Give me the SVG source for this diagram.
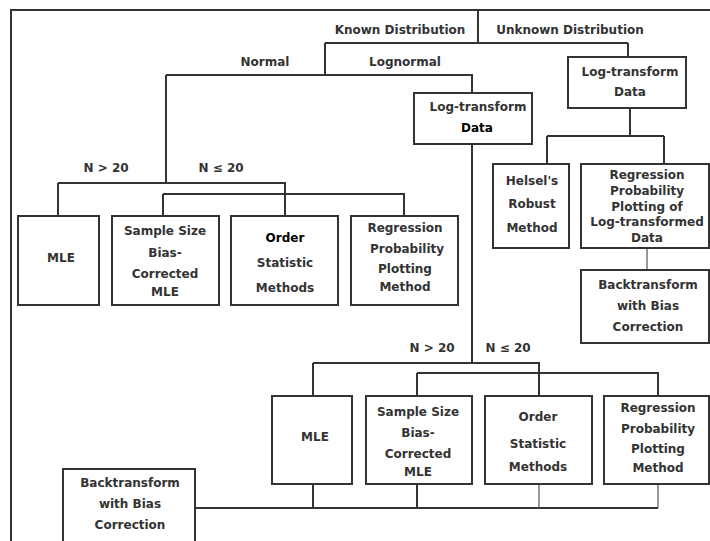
<svg xmlns="http://www.w3.org/2000/svg" width="710" height="541" viewBox="0 0 710 541">
<style>
.bx{fill:#fff;stroke:#333;stroke-width:2}
.ln{fill:none;stroke:#333;stroke-width:2}
.th{fill:none;stroke:#555;stroke-width:1.2}
text{font-family:"DejaVu Sans","Liberation Sans",sans-serif;font-weight:bold;font-size:12px;fill:#333;text-anchor:middle}
text.dk{fill:#000}
</style>
<rect width="710" height="541" fill="#fff"/>
<g id="frame" class="ln"><path d="M11,541 V10 H712"/></g>
<g id="connectors">
<path class="ln" d="M478,10 V43 M325,43 H628 M325,43 V75 M628,43 V57"/>
<path class="ln" d="M166,75 H472 V93 M166,75 V183"/>
<path class="ln" d="M58,183 H285 V216 M58,183 V216 M163,194 H404 V216 M163,194 V216"/>
<path class="ln" d="M630,108 V136 M547,136 H664 M547,136 V164 M664,136 V164"/>
<path class="th" d="M647,248 V270"/>
<path class="ln" d="M472,144 V363 M313,363 H539 V396 M313,363 V396 M417,373 H658 V396 M417,373 V396"/>
<path class="ln" d="M195,508 H658 M313,484 V508 M417,484 V508"/>
<path class="th" d="M539,484 V508 M658,484 V508"/>
</g>
<g id="labels">
<text x="400" y="34">Known Distribution</text>
<text x="570" y="34">Unknown Distribution</text>
<text x="265" y="66">Normal</text>
<text x="405" y="66">Lognormal</text>
<text x="106" y="172">N &gt; 20</text>
<text x="221" y="172">N ≤ 20</text>
<text x="432" y="352">N &gt; 20</text>
<text x="508" y="352">N ≤ 20</text>
</g>
<g id="logtransform-unknown"><rect class="bx" x="568" y="57" width="118" height="51"/><text x="630" y="76">Log-transform</text><text x="630" y="96">Data</text></g>
<g id="logtransform-lognormal"><rect class="bx" x="414" y="93" width="118" height="51"/><text x="478" y="111">Log-transform</text><text class="dk" x="477" y="132">Data</text></g>
<g id="mle-normal"><rect class="bx" x="18" y="216" width="81" height="89"/><text x="61" y="262">MLE</text></g>
<g id="sample-normal"><rect class="bx" x="112" y="216" width="107" height="89"/><text x="165" y="235">Sample Size</text><text x="165" y="257">Bias-</text><text x="165" y="278">Corrected</text><text x="165" y="296">MLE</text></g>
<g id="order-normal"><rect class="bx" x="231" y="216" width="107" height="89"/><text class="dk" x="285" y="242">Order</text><text x="285" y="267">Statistic</text><text x="285" y="292">Methods</text></g>
<g id="regression-normal"><rect class="bx" x="351" y="216" width="107" height="89"/><text x="405" y="232">Regression</text><text x="407" y="253">Probability</text><text x="405" y="273">Plotting</text><text x="405" y="291">Method</text></g>
<g id="helsel"><rect class="bx" x="493" y="164" width="76" height="84"/><text x="532" y="185">Helsel's</text><text x="532" y="208">Robust</text><text x="532" y="232">Method</text></g>
<g id="regression-unknown"><rect class="bx" x="581" y="164" width="128" height="84"/><text x="647" y="179">Regression</text><text x="647" y="195">Probability</text><text x="647" y="211">Plotting of</text><text x="647" y="226">Log-transformed</text><text x="647" y="242">Data</text></g>
<g id="backtransform-unknown"><rect class="bx" x="581" y="270" width="128" height="73"/><text x="648" y="289">Backtransform</text><text x="648" y="310">with Bias</text><text x="648" y="331">Correction</text></g>
<g id="mle-lognormal"><rect class="bx" x="272" y="396" width="80" height="88"/><text x="315" y="441">MLE</text></g>
<g id="sample-lognormal"><rect class="bx" x="366" y="396" width="106" height="88"/><text x="418" y="416">Sample Size</text><text x="418" y="437">Bias-</text><text x="418" y="458">Corrected</text><text x="418" y="476">MLE</text></g>
<g id="order-lognormal"><rect class="bx" x="485" y="396" width="107" height="88"/><text x="538" y="421">Order</text><text x="538" y="448">Statistic</text><text x="538" y="471">Methods</text></g>
<g id="regression-lognormal"><rect class="bx" x="604" y="396" width="105" height="88"/><text x="658" y="412">Regression</text><text x="658" y="433">Probability</text><text x="658" y="453">Plotting</text><text x="658" y="472">Method</text></g>
<g id="backtransform-lognormal"><rect class="bx" x="63" y="469" width="132" height="80"/><text x="130" y="487">Backtransform</text><text x="130" y="508">with Bias</text><text x="130" y="529">Correction</text></g>
</svg>
